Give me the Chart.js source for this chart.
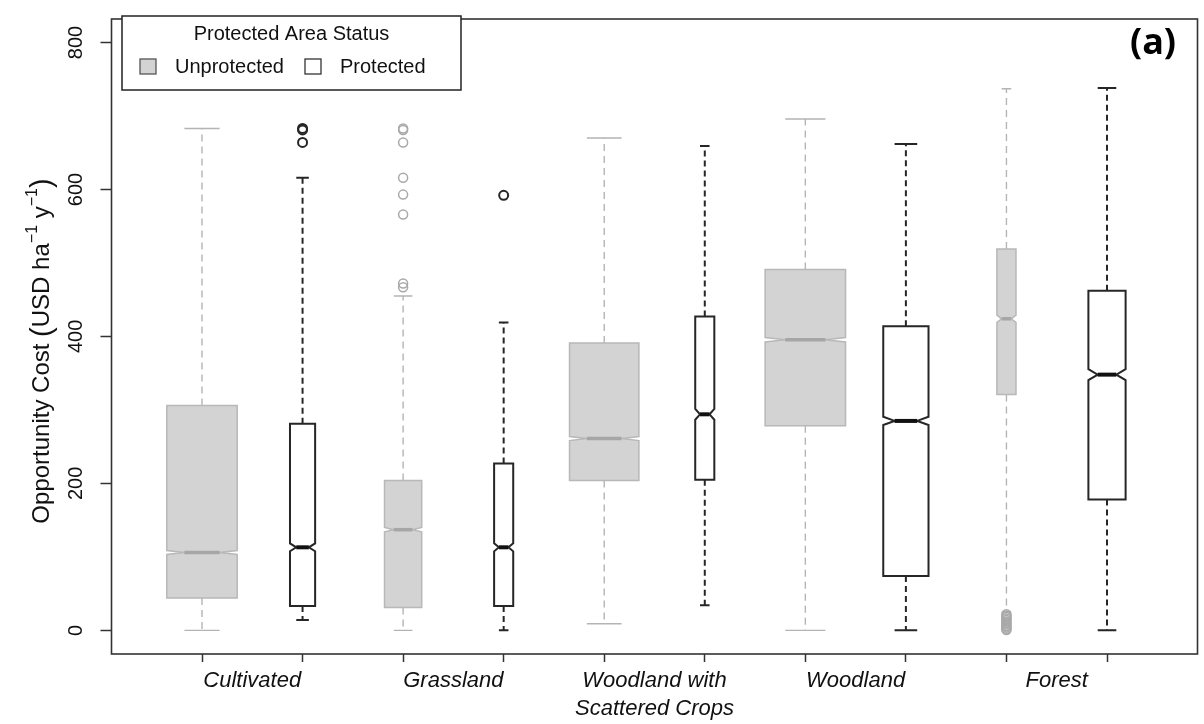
<!DOCTYPE html>
<html><head><meta charset="utf-8">
<script src="https://cdn.jsdelivr.net/npm/chart.js@4/dist/chart.umd.min.js"></script>
<style>html,body{margin:0;padding:0;background:#fff;overflow:hidden}canvas{display:block}</style>
</head><body>
<canvas id="c" width="1204" height="724"></canvas>
<script>
// ---------------- data ----------------
const categories = ['Cultivated', 'Grassland', ['Woodland with', 'Scattered Crops'], 'Woodland', 'Forest'];
const seriesNames = ['Unprotected', 'Protected'];
const yTickValues = [0, 200, 400, 600, 800];
const yTitleParts = ['Opportunity Cost ', '(', 'USD ha', '\u22121', ' y', '\u22121', ')'];

// Unprotected (grey) boxes
const unprotQ1         = [44, 31, 204, 278.5, 321];
const unprotMedian     = [106, 137, 261, 395.5, 424];
const unprotQ3         = [306, 204, 391, 491, 519];
const unprotWhiskerLo  = [0, 0, 9, 0, 25];
const unprotWhiskerHi  = [683, 455, 670, 696, 737];
const unprotNotch      = [2.7, 3, 2.7, 3, 5];          // notch half-height (value units)
const unprotRelWidth   = [0.70, 0.37, 0.69, 0.80, 0.19]; // varwidth (sqrt n)
const unprotOutliers   = [[], [472, 467, 566, 593, 616, 664, 681, 683], [], [],
                          [22, 20, 18, 16, 14, 12, 10, 8, 6, 4, 2, 0.5]];

// Protected (white) boxes
const protQ1           = [33, 33, 205, 74, 178];
const protMedian       = [113, 113, 294, 285, 348];
const protQ3           = [281, 227, 427, 414, 462];
const protWhiskerLo    = [14, 0, 34, 0, 0];
const protWhiskerHi    = [616, 419, 659, 662, 738];
const protNotch        = [5.4, 5.5, 7.4, 5.6, 7.4];
const protRelWidth     = [0.25, 0.19, 0.19, 0.45, 0.37];
const protOutliers     = [[683, 681, 664], [592], [], [], []];

// ---------------- styles ----------------
const FONT = "'Liberation Sans', Arial, Helvetica, sans-serif";
const styleUnprot = { fill: '#d3d3d3', stroke: '#b8b8b8', lw: 1.5, whisker: '#b4b4b4', wlw: 1.4, dash: [7, 5], median: '#a6a6a6', mlw: 3.5 };
const styleProt   = { fill: '#ffffff', stroke: '#262626', lw: 2,   whisker: '#262626', wlw: 2,   dash: [6, 4], median: '#111111', mlw: 4 };

function toPoints(groups, offset) {
  const pts = [];
  groups.forEach((arr, g) => arr.forEach(v => pts.push({ x: 2 * g + offset, y: v })));
  return pts;
}

function drawBox(ctx, xs, ys, xc, q1, med, q3, lo, hi, notch, w, st) {
  const px = xs.getPixelForValue(xc);
  const half = (xs.getPixelForValue(xc + w / 2) - xs.getPixelForValue(xc - w / 2)) / 2;
  const Y = v => ys.getPixelForValue(v);
  ctx.save();
  ctx.strokeStyle = st.whisker; ctx.lineWidth = st.wlw; ctx.setLineDash(st.dash);
  ctx.beginPath();
  ctx.moveTo(px, Y(q3)); ctx.lineTo(px, Y(hi));
  ctx.moveTo(px, Y(q1)); ctx.lineTo(px, Y(lo));
  ctx.stroke();
  ctx.setLineDash([]);
  ctx.beginPath();
  ctx.moveTo(px - half / 2, Y(hi)); ctx.lineTo(px + half / 2, Y(hi));
  ctx.moveTo(px - half / 2, Y(lo)); ctx.lineTo(px + half / 2, Y(lo));
  ctx.stroke();
  ctx.beginPath();
  ctx.moveTo(px - half, Y(q1));
  ctx.lineTo(px - half, Y(med - notch));
  ctx.lineTo(px - half / 2, Y(med));
  ctx.lineTo(px - half, Y(med + notch));
  ctx.lineTo(px - half, Y(q3));
  ctx.lineTo(px + half, Y(q3));
  ctx.lineTo(px + half, Y(med + notch));
  ctx.lineTo(px + half / 2, Y(med));
  ctx.lineTo(px + half, Y(med - notch));
  ctx.lineTo(px + half, Y(q1));
  ctx.closePath();
  ctx.fillStyle = st.fill; ctx.fill();
  ctx.strokeStyle = st.stroke; ctx.lineWidth = st.lw; ctx.lineJoin = 'miter'; ctx.stroke();
  ctx.beginPath();
  ctx.strokeStyle = st.median; ctx.lineWidth = st.mlw; ctx.lineCap = 'butt';
  ctx.moveTo(px - half / 2, Y(med)); ctx.lineTo(px + half / 2, Y(med));
  ctx.stroke();
  ctx.restore();
}

function drawYTitle(ctx, cx, cy) {
  const base = `24px ${FONT}`, sup = `16px ${FONT}`, paren = `29px ${FONT}`;
  const fonts = [base, paren, base, sup, base, sup, paren];
  const shifts = [0, 0, 0, -9, 0, -9, 0];
  let total = 0;
  const widths = yTitleParts.map((t, i) => { ctx.font = fonts[i]; const w = ctx.measureText(t).width; total += w; return w; });
  ctx.save();
  ctx.translate(cx, cy);
  ctx.rotate(-Math.PI / 2);
  ctx.fillStyle = '#111'; ctx.textBaseline = 'middle'; ctx.textAlign = 'left';
  let xx = -total / 2;
  yTitleParts.forEach((t, i) => { ctx.font = fonts[i]; ctx.fillText(t, xx, shifts[i] + (i === 1 || i === 6 ? 1 : 0)); xx += widths[i]; });
  ctx.restore();
}

const boxPlugin = {
  id: 'boxplots',
  beforeDatasetsDraw(chart) {
    const { ctx, scales: { x, y } } = chart;
    for (let g = 0; g < categories.length; g++) {
      drawBox(ctx, x, y, 2 * g + 1, unprotQ1[g], unprotMedian[g], unprotQ3[g], unprotWhiskerLo[g], unprotWhiskerHi[g], unprotNotch[g], unprotRelWidth[g], styleUnprot);
      drawBox(ctx, x, y, 2 * g + 2, protQ1[g], protMedian[g], protQ3[g], protWhiskerLo[g], protWhiskerHi[g], protNotch[g], protRelWidth[g], styleProt);
    }
  },
  afterDraw(chart) {
    const { ctx, chartArea: a } = chart;
    ctx.save();
    ctx.strokeStyle = '#333'; ctx.lineWidth = 1.6;
    ctx.strokeRect(a.left, a.top, a.right - a.left, a.bottom - a.top);
    drawYTitle(ctx, 42, 351);
    const lx = 122, ly = 16, lw = 339, lh = 74;
    ctx.fillStyle = '#fff'; ctx.fillRect(lx, ly, lw, lh);
    ctx.strokeStyle = '#222'; ctx.lineWidth = 1.5; ctx.strokeRect(lx, ly, lw, lh);
    ctx.fillStyle = '#111'; ctx.font = `20px ${FONT}`; ctx.textBaseline = 'middle';
    ctx.textAlign = 'center';
    ctx.fillText('Protected Area Status', lx + lw / 2, ly + 18);
    ctx.textAlign = 'left';
    const items = [{ x: 140, fill: styleUnprot.fill, stroke: '#555' }, { x: 305, fill: '#fff', stroke: '#333' }];
    items.forEach((it, i) => {
      ctx.fillStyle = it.fill; ctx.fillRect(it.x, 59, 16, 15);
      ctx.strokeStyle = it.stroke; ctx.lineWidth = 1.3; ctx.strokeRect(it.x, 59, 16, 15);
      ctx.fillStyle = '#111';
      ctx.fillText(seriesNames[i], it.x + 35, 67);
    });
    ctx.font = `bold 36px 'Open Sans', ${FONT}`;
    ctx.textAlign = 'center'; ctx.fillStyle = '#000';
    ctx.fillText('(a)', 1153, 44);
    ctx.restore();
  }
};

new Chart(document.getElementById('c'), {
  type: 'scatter',
  data: {
    datasets: [
      { label: seriesNames[0], data: toPoints(unprotOutliers, 1), pointRadius: 4.5, pointBorderWidth: 1.5,
        pointBackgroundColor: 'rgba(0,0,0,0)', pointBorderColor: '#a9a9a9', showLine: false },
      { label: seriesNames[1], data: toPoints(protOutliers, 2), pointRadius: 4.5, pointBorderWidth: 2,
        pointBackgroundColor: 'rgba(0,0,0,0)', pointBorderColor: '#262626', showLine: false }
    ]
  },
  options: {
    responsive: false, animation: false, devicePixelRatio: 1,
    layout: { padding: { top: 9.5, right: 2, left: 0, bottom: 0 } },
    plugins: { legend: { display: false }, tooltip: { enabled: false } },
    scales: {
      x: {
        type: 'linear', min: 0.1, max: 10.9,
        afterBuildTicks: s => { const t = []; for (let g = 0; g < categories.length; g++) { t.push({ value: 2 * g + 1 }, { value: 2 * g + 1.5 }, { value: 2 * g + 2 }); } s.ticks = t; },
        afterFit: s => { s.height = 70; },
        border: { display: false },
        grid: { drawOnChartArea: false, drawTicks: true, tickLength: 8, tickWidth: 1.5,
                tickColor: c => (c.tick && Number.isInteger(c.tick.value)) ? '#333' : 'rgba(0,0,0,0)' },
        ticks: {
          autoSkip: false, maxRotation: 0, minRotation: 0, padding: 5, color: '#111',
          font: { family: FONT, size: 22, style: 'italic', lineHeight: 1.27 },
          callback: v => Number.isInteger(v) ? '' : categories[(v - 1.5) / 2]
        }
      },
      y: {
        type: 'linear', min: -32.2, max: 832,
        afterBuildTicks: s => { s.ticks = yTickValues.map(v => ({ value: v })); },
        afterFit: s => { s.width = 111.5; },
        border: { display: false },
        grid: { drawOnChartArea: false, drawTicks: true, tickLength: 11, tickWidth: 1.5, tickColor: '#333' },
        ticks: { minRotation: 90, maxRotation: 90, crossAlign: 'center', padding: 7, color: '#111',
                 font: { family: FONT, size: 20 } }
      }
    }
  },
  plugins: [boxPlugin]
});
</script>
</body></html>
